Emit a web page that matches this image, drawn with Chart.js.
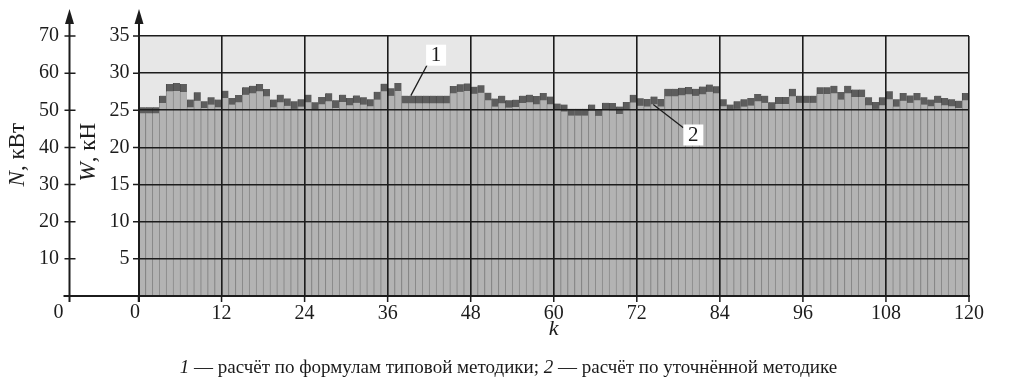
<!DOCTYPE html>
<html><head><meta charset="utf-8">
<script src="https://cdn.jsdelivr.net/npm/chart.js@4.4.0/dist/chart.umd.min.js"></script>
<style>
html,body{margin:0;padding:0;background:#fff;}
#wrap{position:relative;width:1017px;height:387px;overflow:hidden;}
#c{position:absolute;left:0;top:0;}
#cap{position:absolute;left:0;width:1017px;top:356px;line-height:22px;text-align:center;font-family:"Liberation Serif","Times New Roman",serif;font-size:19px;color:#1a1a1a;white-space:nowrap;}
</style></head><body>
<div id="wrap"><canvas id="c" width="1017" height="387"></canvas>
<div id="cap"><i>1</i> — расчёт по формулам типовой методики; <i>2</i> — расчёт по уточнённой методике</div></div>
<script>
// k — номер интервала
const categories = [
0,1,2,3,4,5,6,7,8,9,10,11,12,13,14,15,16,17,18,19,
20,21,22,23,24,25,26,27,28,29,30,31,32,33,34,35,36,37,38,39,
40,41,42,43,44,45,46,47,48,49,50,51,52,53,54,55,56,57,58,59,
60,61,62,63,64,65,66,67,68,69,70,71,72,73,74,75,76,77,78,79,
80,81,82,83,84,85,86,87,88,89,90,91,92,93,94,95,96,97,98,99,
100,101,102,103,104,105,106,107,108,109,110,111,112,113,114,115,116,117,118,119];
// 1 — расчёт по формулам типовой методики, W, кН
const typical = [
25.4,25.4,25.4,26.97,28.54,28.67,28.54,26.44,27.42,26.2,
26.75,26.44,27.64,26.66,27.06,28.1,28.3,28.54,27.87,26.44,
27.1,26.6,26.2,26.5,27.1,26.08,26.8,27.3,26.35,27.1,
26.66,27.0,26.75,26.5,27.5,28.58,27.95,28.67,26.97,26.97,
26.97,26.97,26.97,26.97,26.97,28.27,28.5,28.62,28.18,28.36,
27.37,26.57,26.97,26.34,26.43,26.97,27.1,26.92,27.33,26.85,
25.9,25.78,25.2,25.2,25.2,25.78,25.05,26.0,25.97,25.5,
26.1,27.08,26.63,26.53,26.86,26.52,27.9,27.9,28.02,28.13,
27.9,28.2,28.47,28.22,26.5,25.77,26.2,26.5,26.66,27.2,
26.97,26.08,26.8,26.8,27.9,26.97,26.97,26.97,28.1,28.1,
28.3,27.47,28.3,27.8,27.8,26.75,26.1,26.75,27.55,26.5,
27.33,27.0,27.33,26.75,26.44,26.97,26.66,26.5,26.3,27.33];
// 2 — расчёт по уточнённой методике, W, кН
const refined = [
24.6,24.6,24.6,25.99,27.55,27.6,27.45,25.4,26.3,25.3,
25.77,25.4,26.66,25.77,26.08,27.1,27.3,27.55,26.9,25.4,
26.08,25.6,25.2,25.5,26.08,25.0,25.8,26.2,25.3,26.1,
25.67,26.0,25.77,25.55,26.44,27.55,26.95,27.6,25.94,25.94,
25.94,25.94,25.94,25.94,25.94,27.28,27.5,27.6,27.24,27.37,
26.34,25.5,25.94,25.36,25.45,25.98,26.07,25.8,26.34,25.8,
25.05,24.85,24.3,24.3,24.3,24.95,24.25,25.1,25.0,24.5,
25.1,26.06,25.62,25.52,25.8,25.52,26.88,26.9,27.04,27.15,
26.95,27.15,27.5,27.3,25.54,25.0,25.2,25.5,25.63,26.2,
26.0,25.1,25.85,25.85,26.9,26.0,26.0,26.0,27.2,27.2,
27.3,26.44,27.3,26.8,26.8,25.67,25.2,25.67,26.5,25.5,
26.3,26.0,26.34,25.77,25.54,26.0,25.67,25.54,25.3,26.34];
const xTicks = [0,12,24,36,48,60,72,84,96,108,120];
const wTicks = [5,10,15,20,25,30,35];
const nTicks = [10,20,30,40,50,60,70];

const FONT = "'Liberation Serif','Times New Roman',serif";
const INK = '#1c1c1c';

function drawParts(ctx, parts, size){
  let total = 0;
  parts.forEach(p=>{ctx.font=(p.i?'italic ':'')+size+'px '+FONT; p.w=ctx.measureText(p.t).width; total+=p.w;});
  let x = -total;
  parts.forEach(p=>{ctx.font=(p.i?'italic ':'')+size+'px '+FONT; ctx.fillText(p.t,x,0); x+=p.w;});
}

const decor = {
  id:'decor',
  beforeDraw(chart){
    const {ctx, chartArea:a} = chart;
    ctx.save(); ctx.fillStyle='#e7e7e7';
    ctx.fillRect(a.left,a.top,a.right-a.left,a.bottom-a.top); ctx.restore();
  },
  afterDraw(chart){
    const {ctx, chartArea:a, scales} = chart;
    const xs=scales.x, yw=scales.yW, yn=scales.yN;
    const nx=Math.round(yn.right)+0.5, wx=Math.round(a.left), by=Math.round(a.bottom);
    ctx.save();
    ctx.strokeStyle=INK; ctx.fillStyle=INK;
    ctx.lineWidth=2;
    ctx.beginPath();
    [nx,wx].forEach(x=>{ctx.moveTo(x,a.top-16); ctx.lineTo(x,by+6);});
    ctx.moveTo(nx-6,by); ctx.lineTo(a.right+1,by);
    ctx.stroke();
    [nx,wx].forEach(x=>{ctx.beginPath(); ctx.moveTo(x,a.top-27); ctx.lineTo(x-4.5,a.top-12); ctx.lineTo(x+4.5,a.top-12); ctx.closePath(); ctx.fill();});
    ctx.lineWidth=1.5;
    ctx.beginPath();
    nTicks.forEach(v=>{const y=yn.getPixelForValue(v); ctx.moveTo(nx-5,y); ctx.lineTo(nx+6,y);});
    wTicks.forEach(v=>{const y=yw.getPixelForValue(v); ctx.moveTo(wx-6,y); ctx.lineTo(wx,y);});
    xTicks.forEach(v=>{const x=xs.getPixelForValue(v); ctx.moveTo(x,by); ctx.lineTo(x,by+6);});
    ctx.stroke();
    // zeros
    ctx.font='20px '+FONT; ctx.textAlign='center'; ctx.textBaseline='top';
    ctx.fillText('0', nx-11, by+7);
    ctx.fillText('0', wx-4, by+7);
    // axis titles
    ctx.textAlign='left'; ctx.textBaseline='middle';
    ctx.save(); ctx.translate(18,123); ctx.rotate(-Math.PI/2);
    drawParts(ctx,[{t:'N',i:true},{t:', кВт'}],23); ctx.restore();
    ctx.save(); ctx.translate(89,123); ctx.rotate(-Math.PI/2);
    drawParts(ctx,[{t:'W',i:true},{t:', кН'}],23); ctx.restore();
    // callouts
    function callout(label, p0, p1, c){
      const x0=xs.getPixelForValue(p0[0]), y0=yw.getPixelForValue(p0[1]);
      const x1=xs.getPixelForValue(p1[0]), y1=yw.getPixelForValue(p1[1]);
      const cx=xs.getPixelForValue(c[0]), cy=yw.getPixelForValue(c[1]);
      ctx.lineWidth=1.3; ctx.strokeStyle=INK;
      ctx.beginPath(); ctx.moveTo(x0,y0); ctx.lineTo(x1,y1); ctx.stroke();
      ctx.fillStyle='#fff'; ctx.fillRect(cx-10,cy-10,20,21);
      ctx.fillStyle=INK; ctx.font='21px '+FONT; ctx.textAlign='center'; ctx.textBaseline='middle';
      ctx.fillText(label,cx,cy+1);
    }
    callout('1',[39.35,26.97],[41.7,31.1],[43.0,32.48]);
    callout('2',[74.38,25.77],[78.72,22.64],[80.17,21.74]);
    ctx.restore();
  }
};

const toXY = arr => categories.map((k,i)=>({x:k+0.5,y:arr[i]}));

new Chart(document.getElementById('c'),{
  type:'bar',
  data:{datasets:[
    {label:'2',data:toXY(refined),xAxisID:'x',yAxisID:'yW',grouped:false,order:0,
     backgroundColor:'#b3b3b3',borderColor:'#8a8a8a',borderWidth:{left:1,right:0,top:0,bottom:0},borderSkipped:false,
     barPercentage:1,categoryPercentage:1},
    {label:'1',data:toXY(typical),xAxisID:'x',yAxisID:'yW',grouped:false,order:1,
     backgroundColor:'#5d5d5d',borderColor:'#4a4a4a',borderWidth:{left:1,right:0,top:0,bottom:0},borderSkipped:false,
     barPercentage:1,categoryPercentage:1}
  ]},
  options:{
    responsive:false,animation:false,events:[],
    layout:{padding:{left:0,right:48,top:36,bottom:45}},
    plugins:{legend:{display:false},tooltip:{enabled:false}},
    scales:{
      x:{type:'linear',min:0,max:120,offset:false,
        afterBuildTicks:s=>{s.ticks=xTicks.map(v=>({value:v}));},
        afterFit:s=>{s.height=46;},
        grid:{color:INK,lineWidth:1.6,drawTicks:false,offset:false,z:1},
        border:{display:false},
        ticks:{font:{family:FONT,size:20},color:INK,padding:6,maxRotation:0,autoSkip:false,
          callback:v=>v===0?'':String(v)},
        title:{display:true,text:'k',color:INK,font:{family:FONT,size:22,style:'italic'},padding:{top:0,bottom:0}}
      },
      yW:{type:'linear',position:'left',weight:0,min:0,max:35,
        afterBuildTicks:s=>{s.ticks=wTicks.map(v=>({value:v}));},
        afterFit:s=>{s.width=69.5;},
        grid:{color:INK,lineWidth:1.6,drawTicks:false,z:1},
        border:{display:false},
        ticks:{font:{family:FONT,size:20},color:INK,padding:9}
      },
      yN:{type:'linear',position:'left',weight:1,min:0,max:70,
        afterBuildTicks:s=>{s.ticks=nTicks.map(v=>({value:v}));},
        afterFit:s=>{s.width=69;},
        grid:{display:false,drawTicks:false},
        border:{display:false},
        ticks:{font:{family:FONT,size:20},color:INK,padding:10}
      }
    }
  },
  plugins:[decor]
});
</script>
</body></html>
